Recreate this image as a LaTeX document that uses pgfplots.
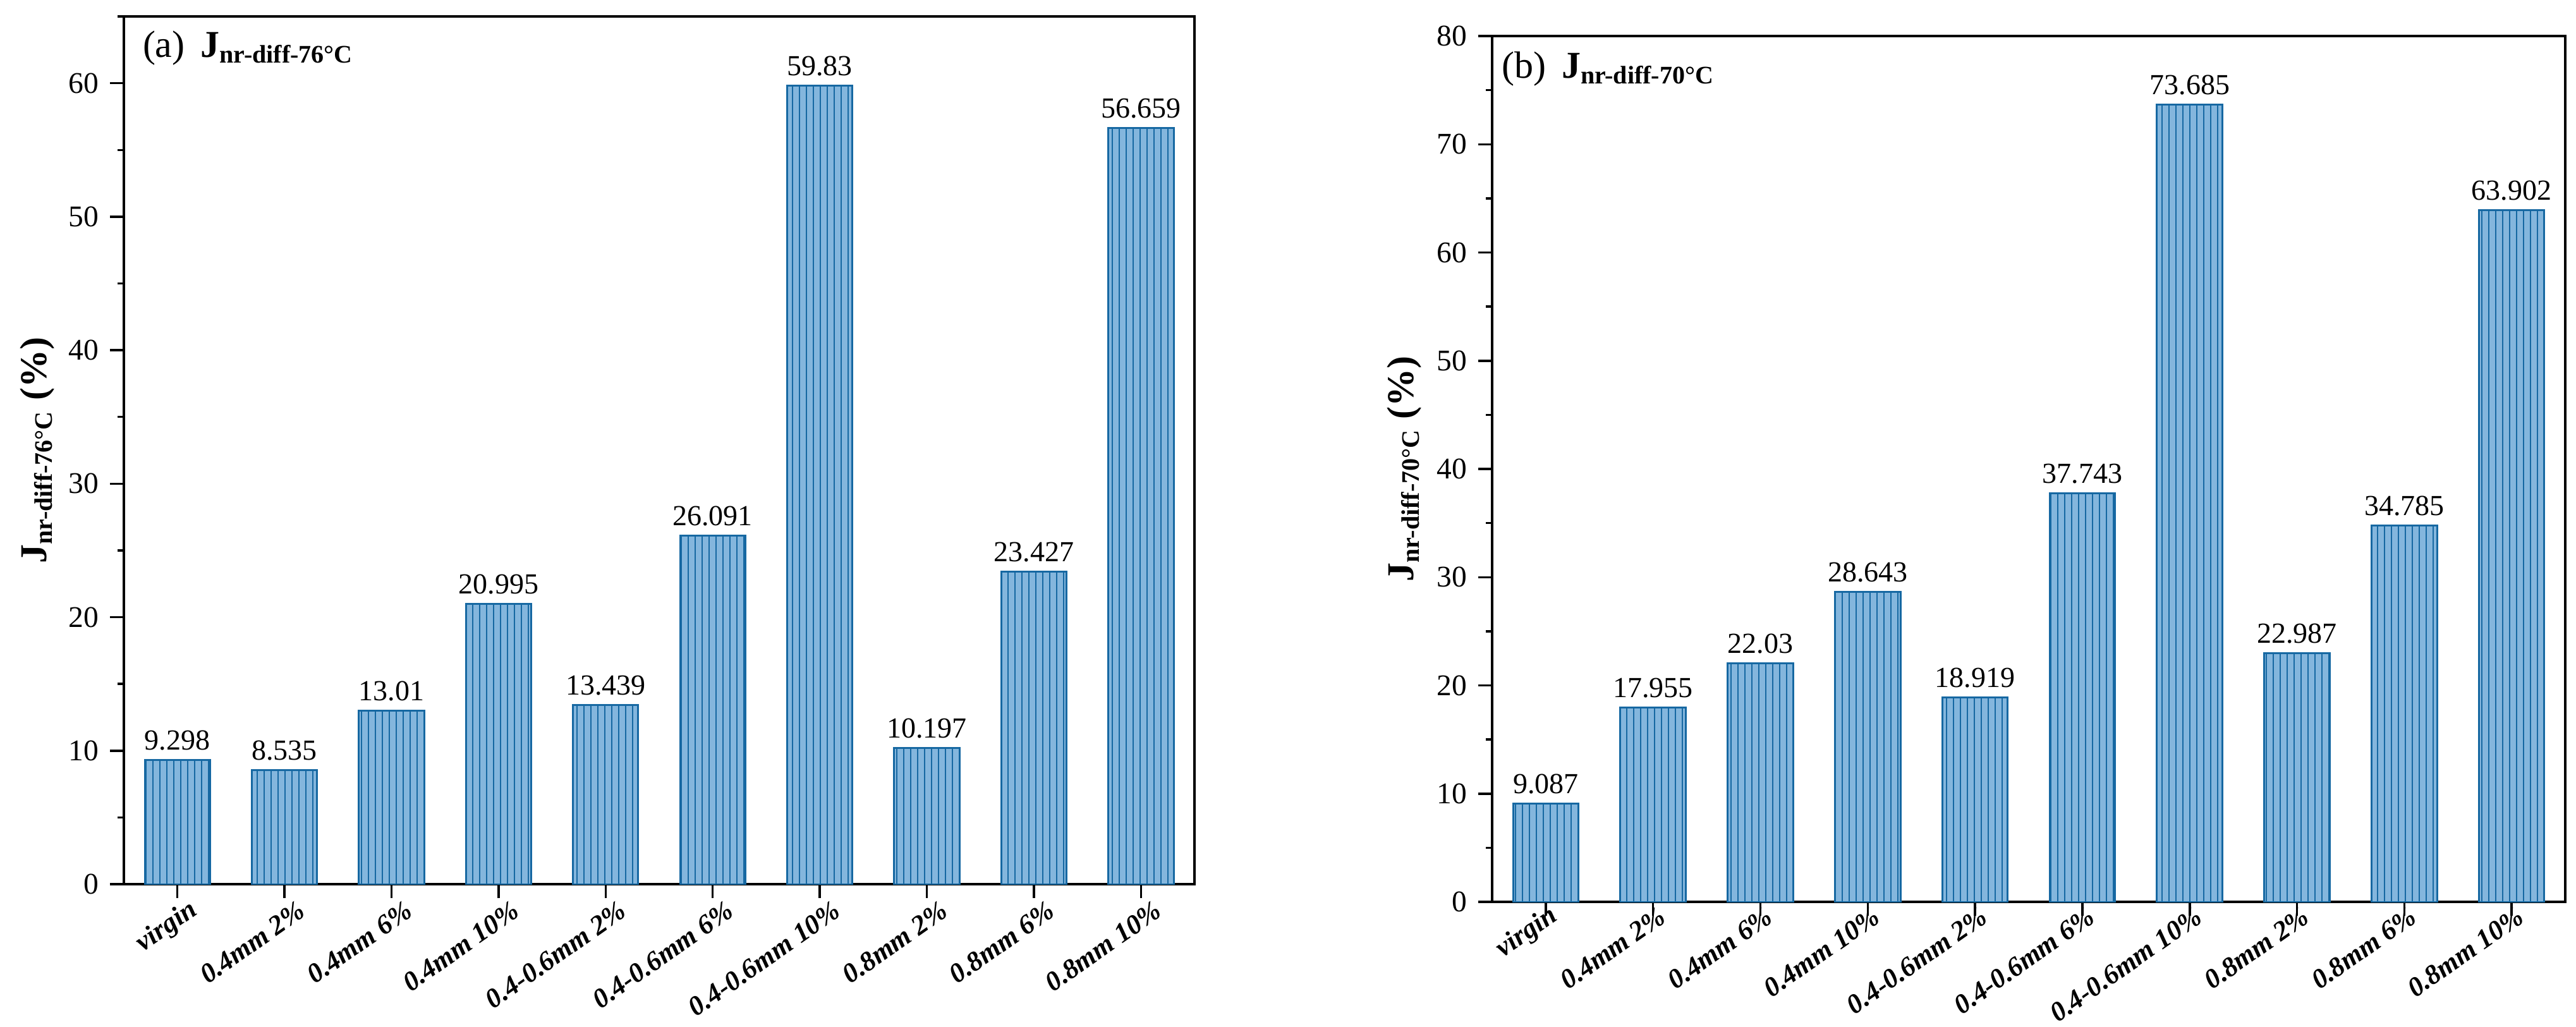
\documentclass[border=0pt]{standalone}
\usepackage{fontspec}
\setmainfont{Liberation Serif}
\usepackage{pgfplots}
\pgfplotsset{compat=1.18}
\usetikzlibrary{patterns.meta}

\definecolor{barfill}{RGB}{132,182,221}
\definecolor{barline}{RGB}{22,104,162}

\pgfplotsset{
  jbar/.style={
    scale only axis,
    ybar,
    bar width=0.61,
    xmin=-0.5, xmax=9.5, ymin=0,
    xtick={0,...,9},
    xticklabels={virgin,0.4mm 2\%,0.4mm 6\%,0.4mm 10\%,0.4-0.6mm 2\%,0.4-0.6mm 6\%,0.4-0.6mm 10\%,0.8mm 2\%,0.8mm 6\%,0.8mm 10\%},
    tick align=outside,
    tick pos=left,
    major tick length=4.4pt,
    minor tick length=2pt,
    minor y tick num=1,
    ytick distance=10,
    axis line style={line width=0.8pt},
    every tick/.style={black, line width=0.7pt},
    /pgf/number format/assume math mode=true,
    yticklabel style={font=\fontsize{9.5}{11}\selectfont},
    xticklabel style={font=\fontsize{8.7}{10}\selectfont\bfseries\itshape,
      inner sep=0pt, anchor=east, xshift=5.6pt, yshift=-3pt, rotate=35},
    nodes near coords={\pgfmathprintnumber[fixed,precision=3]{\pgfplotspointmeta}},
    every node near coord/.append style={font=\fontsize{9.2}{11}\selectfont,
      black, anchor=base, yshift=3.2pt},
    ylabel style={font=\fontsize{12}{14}\selectfont, anchor=south, inner sep=0pt},
  },
  jstyle/.style={draw=barline, line width=0.6pt, fill=barfill,
    postaction={pattern={Lines[angle=90,distance=2.2pt,line width=0.4pt]},
      pattern color=barline}},
}

\begin{document}
\begin{tikzpicture}
\path[use as bounding box] (0,0) rectangle (815.2pt,-324.8pt);

% (a) 76 C
\begin{axis}[jbar,
    at={(39.2pt,-279.8pt)}, anchor=south west,
    width=338.8pt, height=274.6pt,
    ymax=65,
    ylabel={\textbf{J\textsubscript{nr-diff-76°C} (\%)}},
    ylabel style={at={(axis description cs:-0.064,0.5)}},
]
\addplot[jstyle] coordinates {
    (0, 9.298) (1, 8.535) (2, 13.01) (3, 20.995) (4, 13.439)
    (5, 26.091) (6, 59.83) (7, 10.197) (8, 23.427) (9, 56.659)
};
\node[anchor=base west, inner sep=0pt, font=\fontsize{12}{14}\selectfont]
  at ([xshift=5.8pt,yshift=-12.8pt]rel axis cs:0,1)
  {(a)\hspace{5pt}\textbf{J\textsubscript{nr-diff-76°C}}};
\end{axis}

% (b) 70 C
\begin{axis}[jbar,
    at={(472.2pt,-285.4pt)}, anchor=south west,
    width=339.6pt, height=274pt,
    ymax=80,
    ylabel={\textbf{J\textsubscript{nr-diff-70°C} (\%)}},
    ylabel style={at={(axis description cs:-0.065,0.5)}},
    xticklabel style={yshift=4.6pt},
]
\addplot[jstyle] coordinates {
    (0, 9.087) (1, 17.955) (2, 22.03) (3, 28.643) (4, 18.919)
    (5, 37.743) (6, 73.685) (7, 22.987) (8, 34.785) (9, 63.902)
};
\node[anchor=base west, inner sep=0pt, font=\fontsize{12}{14}\selectfont]
  at ([xshift=2.8pt,yshift=-13.2pt]rel axis cs:0,1)
  {(b)\hspace{5pt}\textbf{J\textsubscript{nr-diff-70°C}}};
\end{axis}
\end{tikzpicture}
\end{document}
